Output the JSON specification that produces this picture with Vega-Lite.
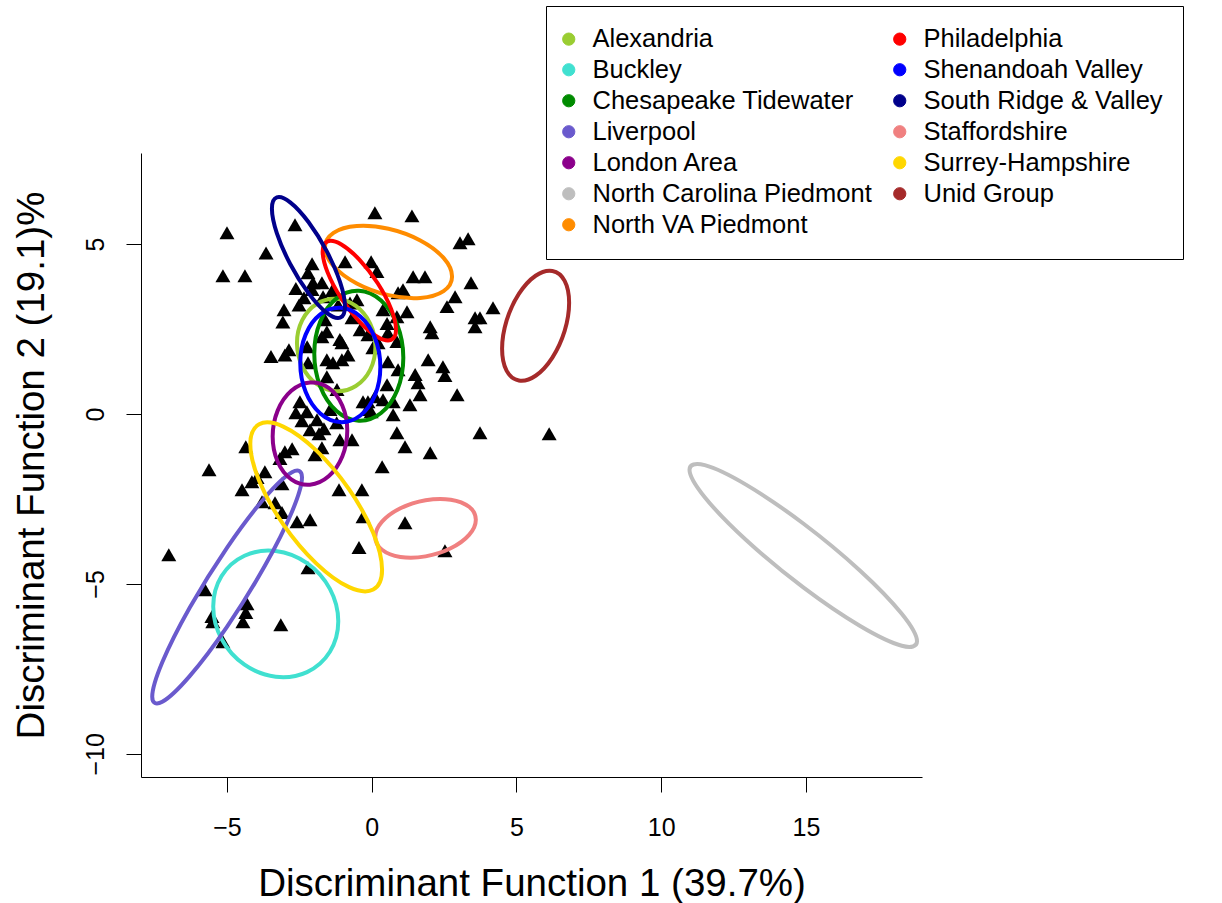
{
"$schema": "https://vega.github.io/schema/vega-lite/v6.json",
"width": 781,
"height": 624,
"autosize": {"type": "none"},
"padding": {"left": 141, "top": 153, "right": 300, "bottom": 126},
"background": "white",
"config": {"view": {"stroke": null}, "font": "Liberation Sans"},
"datasets": {
"pts": [
{"x":-5.00,"y":5.33},{"x":-3.65,"y":4.74},{"x":-5.14,"y":4.07},{"x":-4.38,"y":4.07},{"x":-2.65,"y":5.57},
{"x":0.11,"y":5.92},{"x":1.39,"y":5.83},{"x":3.05,"y":5.04},{"x":3.33,"y":5.16},{"x":-0.92,"y":4.48},
{"x":-0.02,"y":4.48},{"x":0.18,"y":4.19},{"x":-2.06,"y":4.42},{"x":-2.20,"y":4.16},{"x":-1.72,"y":3.86},
{"x":-2.03,"y":3.86},{"x":-2.62,"y":3.69},{"x":-2.06,"y":3.66},{"x":-1.37,"y":3.63},{"x":1.43,"y":4.04},
{"x":1.84,"y":4.04},{"x":3.43,"y":3.86},{"x":2.88,"y":3.45},{"x":0.91,"y":3.57},{"x":1.08,"y":3.66},
{"x":2.60,"y":3.16},{"x":4.19,"y":3.13},{"x":3.57,"y":2.83},{"x":3.74,"y":2.83},{"x":3.57,"y":2.57},
{"x":2.02,"y":2.57},{"x":2.08,"y":2.39},{"x":-2.51,"y":3.21},{"x":-3.03,"y":3.07},{"x":-3.07,"y":2.71},
{"x":-2.34,"y":3.42},{"x":-1.68,"y":3.45},{"x":-0.51,"y":3.36},{"x":0.39,"y":3.07},{"x":1.22,"y":3.01},
{"x":0.53,"y":2.66},{"x":0.56,"y":2.39},{"x":0.22,"y":2.10},{"x":-1.55,"y":2.42},{"x":-1.03,"y":2.10},
{"x":-0.40,"y":2.48},{"x":0.04,"y":1.95},{"x":-3.48,"y":1.69},{"x":-3.00,"y":1.74},{"x":-2.86,"y":1.89},
{"x":-1.34,"y":1.51},{"x":-1.03,"y":1.60},{"x":-2.20,"y":1.51},{"x":-2.23,"y":1.98},{"x":-1.55,"y":1.10},
{"x":-0.82,"y":1.74},{"x":0.56,"y":1.54},{"x":0.53,"y":0.86},{"x":0.74,"y":0.36},{"x":0.87,"y":-0.55},
{"x":0.36,"y":-1.55},{"x":0.91,"y":1.30},{"x":1.50,"y":1.16},{"x":1.60,"y":0.92},{"x":1.67,"y":0.57},
{"x":1.32,"y":0.27},{"x":1.95,"y":1.60},{"x":2.46,"y":1.39},{"x":2.53,"y":1.13},{"x":2.95,"y":0.57},
{"x":0.11,"y":0.51},{"x":0.39,"y":0.42},{"x":0.74,"y":-0.02},{"x":-0.16,"y":0.13},{"x":1.15,"y":-0.96},
{"x":2.02,"y":-1.14},{"x":3.74,"y":-0.55},{"x":6.13,"y":-0.58},{"x":-1.61,"y":2.77},{"x":-0.68,"y":2.83},
{"x":-1.16,"y":3.21},{"x":-0.13,"y":0.36},{"x":-0.30,"y":0.36},{"x":-0.02,"y":0.07},{"x":-2.48,"y":0.36},
{"x":-2.62,"y":0.04},{"x":-2.24,"y":0.07},{"x":-1.89,"y":-0.17},{"x":-2.41,"y":-0.20},{"x":-2.13,"y":-0.46},
{"x":-1.82,"y":-0.58},{"x":-1.65,"y":-0.43},{"x":-1.72,"y":-0.99},{"x":-1.96,"y":-1.20},{"x":-2.75,"y":-1.02},
{"x":-3.00,"y":-1.11},{"x":-3.17,"y":-1.31},{"x":-3.69,"y":-1.70},{"x":-3.10,"y":-2.05},{"x":-3.96,"y":-1.87},
{"x":-1.10,"y":-0.76},{"x":-0.68,"y":-0.76},{"x":-4.35,"y":-0.96},{"x":-5.62,"y":-1.64},{"x":-4.14,"y":-1.99},
{"x":-4.48,"y":-2.23},{"x":-1.13,"y":-2.23},{"x":-0.34,"y":-2.23},{"x":-3.34,"y":-2.61},{"x":-3.79,"y":-2.58},
{"x":-3.10,"y":-2.90},{"x":-2.58,"y":-3.17},{"x":-2.13,"y":-3.11},{"x":-0.30,"y":-3.02},{"x":1.15,"y":-3.20},
{"x":-0.44,"y":-3.93},{"x":2.53,"y":-4.02},{"x":-2.20,"y":-4.52},{"x":-7.01,"y":-4.14},{"x":-5.76,"y":-5.17},
{"x":-5.52,"y":-5.96},{"x":-5.49,"y":-6.11},{"x":-4.31,"y":-5.58},{"x":-4.35,"y":-5.84},{"x":-4.45,"y":-6.11},
{"x":-3.14,"y":-6.20},{"x":-5.14,"y":-6.70},{"x":-1.72,"y":2.27},{"x":-1.10,"y":2.19},{"x":-0.13,"y":2.33},
{"x":0.87,"y":2.86},{"x":0.87,"y":2.13},{"x":-1.55,"y":1.60},{"x":-0.75,"y":3.27},{"x":-1.44,"y":0.13},
{"x":-1.21,"y":-0.26},{"x":-1.20,"y":0.72}
],
"ell": [
{"g":"Alexandria","i":0,"x":0.128,"y":1.973},{"g":"Alexandria","i":1,"x":-0.054,"y":2.661},{"g":"Alexandria","i":2,"x":-0.549,"y":3.179},{"g":"Alexandria","i":3,"x":-1.227,"y":3.391},{"g":"Alexandria","i":4,"x":-1.905,"y":3.239},{"g":"Alexandria","i":5,"x":-2.400,"y":2.763},{"g":"Alexandria","i":6,"x":-2.582,"y":2.091},{"g":"Alexandria","i":7,"x":-2.400,"y":1.403},{"g":"Alexandria","i":8,"x":-1.905,"y":0.885},{"g":"Alexandria","i":9,"x":-1.227,"y":0.673},{"g":"Alexandria","i":10,"x":-0.549,"y":0.825},{"g":"Alexandria","i":11,"x":-0.054,"y":1.301},
{"g":"Buckley","i":0,"x":-1.155,"y":-6.100},{"g":"Buckley","i":1,"x":-1.444,"y":-5.146},{"g":"Buckley","i":2,"x":-2.235,"y":-4.389},{"g":"Buckley","i":3,"x":-3.315,"y":-4.032},{"g":"Buckley","i":4,"x":-4.395,"y":-4.171},{"g":"Buckley","i":5,"x":-5.186,"y":-4.768},{"g":"Buckley","i":6,"x":-5.475,"y":-5.664},{"g":"Buckley","i":7,"x":-5.186,"y":-6.618},{"g":"Buckley","i":8,"x":-4.395,"y":-7.375},{"g":"Buckley","i":9,"x":-3.315,"y":-7.732},{"g":"Buckley","i":10,"x":-2.235,"y":-7.593},{"g":"Buckley","i":11,"x":-1.444,"y":-6.996},
{"g":"Chesapeake Tidewater","i":0,"x":1.092,"y":1.656},{"g":"Chesapeake Tidewater","i":1,"x":0.886,"y":2.620},{"g":"Chesapeake Tidewater","i":2,"x":0.323,"y":3.341},{"g":"Chesapeake Tidewater","i":3,"x":-0.446,"y":3.627},{"g":"Chesapeake Tidewater","i":4,"x":-1.215,"y":3.401},{"g":"Chesapeake Tidewater","i":5,"x":-1.778,"y":2.722},{"g":"Chesapeake Tidewater","i":6,"x":-1.984,"y":1.774},{"g":"Chesapeake Tidewater","i":7,"x":-1.778,"y":0.810},{"g":"Chesapeake Tidewater","i":8,"x":-1.215,"y":0.089},{"g":"Chesapeake Tidewater","i":9,"x":-0.446,"y":-0.197},{"g":"Chesapeake Tidewater","i":10,"x":0.323,"y":0.029},{"g":"Chesapeake Tidewater","i":11,"x":0.886,"y":0.708},
{"g":"Liverpool","i":0,"x":-2.408,"y":-1.862},{"g":"Liverpool","i":1,"x":-2.755,"y":-1.714},{"g":"Liverpool","i":2,"x":-3.701,"y":-2.470},{"g":"Liverpool","i":3,"x":-4.995,"y":-3.929},{"g":"Liverpool","i":4,"x":-6.289,"y":-5.700},{"g":"Liverpool","i":5,"x":-7.235,"y":-7.306},{"g":"Liverpool","i":6,"x":-7.582,"y":-8.320},{"g":"Liverpool","i":7,"x":-7.235,"y":-8.468},{"g":"Liverpool","i":8,"x":-6.289,"y":-7.712},{"g":"Liverpool","i":9,"x":-4.995,"y":-6.253},{"g":"Liverpool","i":10,"x":-3.701,"y":-4.482},{"g":"Liverpool","i":11,"x":-2.755,"y":-2.876},
{"g":"London Area","i":0,"x":-0.844,"y":-0.488},{"g":"London Area","i":1,"x":-1.017,"y":0.252},{"g":"London Area","i":2,"x":-1.488,"y":0.770},{"g":"London Area","i":3,"x":-2.133,"y":0.927},{"g":"London Area","i":4,"x":-2.778,"y":0.682},{"g":"London Area","i":5,"x":-3.249,"y":0.100},{"g":"London Area","i":6,"x":-3.422,"y":-0.664},{"g":"London Area","i":7,"x":-3.249,"y":-1.404},{"g":"London Area","i":8,"x":-2.778,"y":-1.922},{"g":"London Area","i":9,"x":-2.133,"y":-2.079},{"g":"London Area","i":10,"x":-1.488,"y":-1.834},{"g":"London Area","i":11,"x":-1.017,"y":-1.252},
{"g":"North Carolina Piedmont","i":0,"x":18.838,"y":-6.686},{"g":"North Carolina Piedmont","i":1,"x":18.311,"y":-5.877},{"g":"North Carolina Piedmont","i":2,"x":16.873,"y":-4.609},{"g":"North Carolina Piedmont","i":3,"x":14.908,"y":-3.221},{"g":"North Carolina Piedmont","i":4,"x":12.943,"y":-2.085},{"g":"North Carolina Piedmont","i":5,"x":11.505,"y":-1.505},{"g":"North Carolina Piedmont","i":6,"x":10.978,"y":-1.638},{"g":"North Carolina Piedmont","i":7,"x":11.505,"y":-2.447},{"g":"North Carolina Piedmont","i":8,"x":12.943,"y":-3.715},{"g":"North Carolina Piedmont","i":9,"x":14.908,"y":-5.103},{"g":"North Carolina Piedmont","i":10,"x":16.873,"y":-6.239},{"g":"North Carolina Piedmont","i":11,"x":18.311,"y":-6.819},
{"g":"North VA Piedmont","i":0,"x":2.776,"y":4.048},{"g":"North VA Piedmont","i":1,"x":2.482,"y":4.593},{"g":"North VA Piedmont","i":2,"x":1.679,"y":5.106},{"g":"North VA Piedmont","i":3,"x":0.581,"y":5.450},{"g":"North VA Piedmont","i":4,"x":-0.517,"y":5.532},{"g":"North VA Piedmont","i":5,"x":-1.320,"y":5.331},{"g":"North VA Piedmont","i":6,"x":-1.614,"y":4.900},{"g":"North VA Piedmont","i":7,"x":-1.320,"y":4.355},{"g":"North VA Piedmont","i":8,"x":-0.517,"y":3.842},{"g":"North VA Piedmont","i":9,"x":0.581,"y":3.498},{"g":"North VA Piedmont","i":10,"x":1.679,"y":3.416},{"g":"North VA Piedmont","i":11,"x":2.482,"y":3.617},
{"g":"Philadelphia","i":0,"x":0.840,"y":2.484},{"g":"Philadelphia","i":1,"x":0.670,"y":3.094},{"g":"Philadelphia","i":2,"x":0.207,"y":3.847},{"g":"Philadelphia","i":3,"x":-0.427,"y":4.543},{"g":"Philadelphia","i":4,"x":-1.061,"y":4.995},{"g":"Philadelphia","i":5,"x":-1.524,"y":5.080},{"g":"Philadelphia","i":6,"x":-1.694,"y":4.778},{"g":"Philadelphia","i":7,"x":-1.524,"y":4.168},{"g":"Philadelphia","i":8,"x":-1.061,"y":3.415},{"g":"Philadelphia","i":9,"x":-0.427,"y":2.719},{"g":"Philadelphia","i":10,"x":0.207,"y":2.267},{"g":"Philadelphia","i":11,"x":0.670,"y":2.182},
{"g":"Shenandoah Valley","i":0,"x":0.298,"y":1.385},{"g":"Shenandoah Valley","i":1,"x":0.113,"y":2.234},{"g":"Shenandoah Valley","i":2,"x":-0.393,"y":2.871},{"g":"Shenandoah Valley","i":3,"x":-1.085,"y":3.126},{"g":"Shenandoah Valley","i":4,"x":-1.777,"y":2.931},{"g":"Shenandoah Valley","i":5,"x":-2.283,"y":2.336},{"g":"Shenandoah Valley","i":6,"x":-2.468,"y":1.503},{"g":"Shenandoah Valley","i":7,"x":-2.283,"y":0.654},{"g":"Shenandoah Valley","i":8,"x":-1.777,"y":0.017},{"g":"Shenandoah Valley","i":9,"x":-1.085,"y":-0.238},{"g":"Shenandoah Valley","i":10,"x":-0.393,"y":-0.043},{"g":"Shenandoah Valley","i":11,"x":0.113,"y":0.552},
{"g":"South Ridge & Valley","i":0,"x":-0.923,"y":3.165},{"g":"South Ridge & Valley","i":1,"x":-1.092,"y":3.882},{"g":"South Ridge & Valley","i":2,"x":-1.554,"y":4.791},{"g":"South Ridge & Valley","i":3,"x":-2.185,"y":5.650},{"g":"South Ridge & Valley","i":4,"x":-2.816,"y":6.229},{"g":"South Ridge & Valley","i":5,"x":-3.278,"y":6.372},{"g":"South Ridge & Valley","i":6,"x":-3.447,"y":6.041},{"g":"South Ridge & Valley","i":7,"x":-3.278,"y":5.324},{"g":"South Ridge & Valley","i":8,"x":-2.816,"y":4.415},{"g":"South Ridge & Valley","i":9,"x":-2.185,"y":3.556},{"g":"South Ridge & Valley","i":10,"x":-1.554,"y":2.977},{"g":"South Ridge & Valley","i":11,"x":-1.092,"y":2.834},
{"g":"Staffordshire","i":0,"x":3.597,"y":-3.109},{"g":"Staffordshire","i":1,"x":3.364,"y":-2.730},{"g":"Staffordshire","i":2,"x":2.729,"y":-2.520},{"g":"Staffordshire","i":3,"x":1.860,"y":-2.536},{"g":"Staffordshire","i":4,"x":0.991,"y":-2.774},{"g":"Staffordshire","i":5,"x":0.356,"y":-3.168},{"g":"Staffordshire","i":6,"x":0.123,"y":-3.615},{"g":"Staffordshire","i":7,"x":0.356,"y":-3.994},{"g":"Staffordshire","i":8,"x":0.991,"y":-4.204},{"g":"Staffordshire","i":9,"x":1.860,"y":-4.188},{"g":"Staffordshire","i":10,"x":2.729,"y":-3.950},{"g":"Staffordshire","i":11,"x":3.364,"y":-3.556},
{"g":"Surrey-Hampshire","i":0,"x":0.358,"y":-4.579},{"g":"Surrey-Hampshire","i":1,"x":0.053,"y":-3.501},{"g":"Surrey-Hampshire","i":2,"x":-0.780,"y":-2.217},{"g":"Surrey-Hampshire","i":3,"x":-1.918,"y":-1.070},{"g":"Surrey-Hampshire","i":4,"x":-3.056,"y":-0.369},{"g":"Surrey-Hampshire","i":5,"x":-3.889,"y":-0.301},{"g":"Surrey-Hampshire","i":6,"x":-4.194,"y":-0.885},{"g":"Surrey-Hampshire","i":7,"x":-3.889,"y":-1.963},{"g":"Surrey-Hampshire","i":8,"x":-3.056,"y":-3.247},{"g":"Surrey-Hampshire","i":9,"x":-1.918,"y":-4.394},{"g":"Surrey-Hampshire","i":10,"x":-0.780,"y":-5.095},{"g":"Surrey-Hampshire","i":11,"x":0.053,"y":-5.163},
{"g":"Unid Group","i":0,"x":6.820,"y":3.273},{"g":"Unid Group","i":1,"x":6.665,"y":3.918},{"g":"Unid Group","i":2,"x":6.241,"y":4.209},{"g":"Unid Group","i":3,"x":5.662,"y":4.068},{"g":"Unid Group","i":4,"x":5.083,"y":3.533},{"g":"Unid Group","i":5,"x":4.659,"y":2.748},{"g":"Unid Group","i":6,"x":4.504,"y":1.921},{"g":"Unid Group","i":7,"x":4.659,"y":1.276},{"g":"Unid Group","i":8,"x":5.083,"y":0.985},{"g":"Unid Group","i":9,"x":5.662,"y":1.126},{"g":"Unid Group","i":10,"x":6.241,"y":1.661},{"g":"Unid Group","i":11,"x":6.665,"y":2.446}
]
},
"encoding": {
"x": {"field": "x", "type": "quantitative",
 "scale": {"domain": [-7.97, 19.01], "nice": false, "zero": false},
 "axis": {"values": [-5, 0, 5, 10, 15], "title": "Discriminant Function 1 (39.7%)", "grid": false,
  "tickSize": 15, "tickColor": "black", "tickWidth": 1, "domainColor": "black", "domainWidth": 1,
  "labelFontSize": 25, "labelColor": "black", "labelFont": "Liberation Sans", "labelBaseline": "alphabetic",
  "labelPadding": 43, "labelFlush": false, "labelOverlap": false,
  "titleFontSize": 38.5, "titleFontWeight": "normal", "titleColor": "black", "titleFont": "Liberation Sans",
  "titleBaseline": "alphabetic", "titleY": 118}},
"y": {"field": "y", "type": "quantitative",
 "scale": {"domain": [-10.68, 7.68], "nice": false, "zero": false},
 "axis": {"values": [-10, -5, 0, 5], "title": "Discriminant Function 2 (19.1)%", "grid": false,
  "tickSize": 15, "tickColor": "black", "tickWidth": 1, "domainColor": "black", "domainWidth": 1,
  "labelFontSize": 25, "labelColor": "black", "labelFont": "Liberation Sans", "labelAngle": 270,
  "labelAlign": "center", "labelBaseline": "alphabetic", "labelPadding": 23, "labelFlush": false, "labelOverlap": false,
  "titleFontSize": 38.5, "titleFontWeight": "normal", "titleColor": "black", "titleFont": "Liberation Sans",
  "titleAngle": 270, "titleAlign": "center", "titleBaseline": "alphabetic", "titleX": -98}}
},
"layer": [
{"data": {"name": "pts"},
 "mark": {"type": "point", "shape": "triangle-up", "filled": true, "color": "black", "size": 225, "opacity": 1, "strokeWidth": 0}},
{"data": {"name": "ell"},
 "mark": {"type": "line", "interpolate": "cardinal-closed", "strokeWidth": 4},
 "encoding": {
  "order": {"field": "i", "type": "quantitative"},
  "color": {"field": "g", "type": "nominal",
   "scale": {"domain": ["Alexandria", "Buckley", "Chesapeake Tidewater", "Liverpool", "London Area", "North Carolina Piedmont", "North VA Piedmont", "Philadelphia", "Shenandoah Valley", "South Ridge & Valley", "Staffordshire", "Surrey-Hampshire", "Unid Group"],
    "range": ["#9ACD32", "#40E0D0", "#008B00", "#6A5ACD", "#8B008B", "#BEBEBE", "#FF8C00", "#FF0000", "#0000FF", "#00008B", "#F08080", "#FFD700", "#A52A2A"]},
   "legend": {"orient": "none", "legendX": 405, "legendY": -147, "title": null, "columns": 2,
    "columnPadding": 19, "rowPadding": 4, "padding": 20, "strokeColor": "black", "fillColor": "white",
    "gridAlign": "all", "symbolType": "circle", "symbolSize": 150, "symbolStrokeWidth": 1, "symbolStrokeColor": "black",
    "symbolOffset": -10,
    "labelFontSize": 25.5, "labelFont": "Liberation Sans", "labelColor": "black", "labelOffset": 11, "labelLimit": 400,
    "encode": {
     "symbols": {"update": {"fill": {"scale": "color", "field": "value"}, "stroke": {"value": "black"}, "strokeWidth": {"value": 1}, "opacity": {"value": 1}}}}}}
 }}
]
}
